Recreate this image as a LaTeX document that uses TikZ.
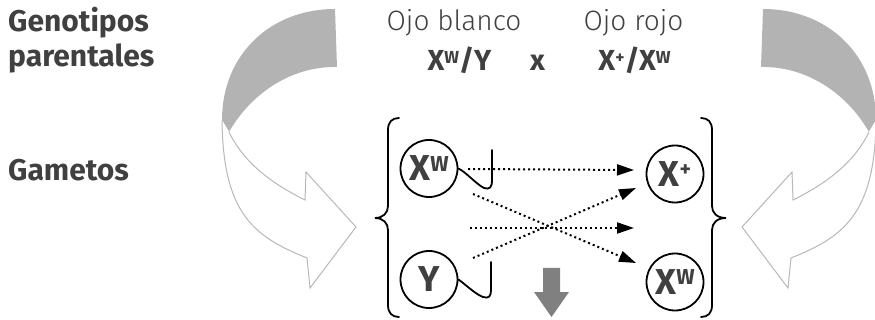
\documentclass[tikz,border=0pt]{standalone}
\usepackage{fontspec}
\setmainfont{Fira Sans}
\newfontfamily\lightfont{Fira Sans Light}
\usetikzlibrary{arrows.meta}
\definecolor{txt}{HTML}{404040}
\definecolor{band}{HTML}{B3B3B3}
\definecolor{outl}{HTML}{B8B8B8}
\definecolor{downc}{HTML}{808080}
\newcommand{\sps}[1]{\raisebox{0.27em}{\scalebox{0.6}{#1}}}
\newcommand{\curvarrow}{%
  \fill[band] (335,9) .. controls (270,9) and (222,55) .. (222,120) -- (229,132)
     .. controls (250,95) and (290,66) .. (337,67) -- cycle;
  \draw[outl, line width=1pt, fill=white, line join=miter] (222,120) .. controls (223,215) and (255,237) .. (307,258)
     -- (310,288) -- (356,227) -- (306,172) -- (305,200)
     .. controls (275,185) and (245,165) .. (229,132);
}
\begin{document}
\begin{tikzpicture}[x=1pt,y=-1pt,
  hd/.style={inner sep=0pt, text=txt, anchor=base west, font=\bfseries\fontsize{30}{32}\selectfont},
  lt/.style={inner sep=0pt, text=txt, anchor=base, font=\lightfont\fontsize{28}{30}\selectfont},
  gt/.style={inner sep=0pt, text=txt, anchor=base, font=\bfseries\fontsize{29}{31}\selectfont},
  gam/.style={draw=black, circle, line width=1.8pt, minimum size=57pt, inner sep=0pt, text=txt, font=\bfseries\fontsize{36}{38}\selectfont},
  brace/.style={draw=black, line width=1.8pt, line cap=round},
  hookst/.style={draw=black, line width=1.8pt, line cap=round},
  dots/.style={draw=black, line width=2pt, dash pattern=on 2pt off 3pt, -{Triangle[length=17pt,width=11pt]}}
]
\useasboundingbox (0,0) rectangle (875,320);

% curved arrows
\curvarrow
\begin{scope}[xshift=1098pt, xscale=-1]
  \curvarrow
\end{scope}

% left texts
\node[hd] (g1) at (8,32) {Genotipos};
\node[hd] (g2) at (8,67) {parentales};
\node[hd] (g3) at (8,181) {Gametos};

% top texts
\node[lt] (ob) at (454,31) {Ojo blanco};
\node[lt] (or) at (633.5,31) {Ojo rojo};
\node[gt] (p1) at (459.5,71) {X\sps{W}/Y};
\node[gt] (px) at (537.5,71) {x};
\node[gt] (p2) at (634.5,71) {X\sps{+}/X\sps{W}};

% braces
\draw[brace] (399,118) .. controls (392,118) and (388,122) .. (388,130) -- (388,206)
   .. controls (388,213) and (383,218) .. (375,218) .. controls (383,218) and (388,223) .. (388,230)
   -- (388,305) .. controls (388,313) and (392,317) .. (399,317);
\draw[brace] (701,118) .. controls (708,118) and (712,122) .. (712,130) -- (712,206)
   .. controls (712,213) and (717,218) .. (726,218) .. controls (717,218) and (712,223) .. (712,230)
   -- (712,305) .. controls (712,313) and (708,317) .. (701,317);

% gametes
\node[gam] (xw1) at (429,168.5) {X\sps{W}};
\node[gam] (y1) at (429,279.5) {Y};
\node[gam] (xp) at (675,174) {X\sps{+}};
\node[gam] (xw2) at (675,282) {X\sps{W}};

% hooks
\draw[hookst] (xw1.east) .. controls (466,172) and (476,184) .. (484,188)
   .. controls (490,190) and (492,187) .. (492,180) -- (492,150);
\draw[hookst] (y1.east) .. controls (465,284) and (475,294) .. (483,297)
   .. controls (489,299) and (491,296) .. (491,290) -- (491,262);

% dotted arrows
\coordinate (s1) at (468,169); \coordinate (e1) at (634,170);
\coordinate (s2) at (473,194); \coordinate (e2) at (636,263);
\coordinate (s3) at (470,228); \coordinate (e3) at (634,228);
\coordinate (s4) at (473,258); \coordinate (e4) at (636,188);
\draw[dots] (s1) -- (e1);
\draw[dots] (s2) -- (e2);
\draw[dots] (s3) -- (e3);
\draw[dots] (s4) -- (e4);

% down arrow
\fill[downc] (543,268) -- (560,268) -- (560,292) -- (569,292) -- (551.5,317) -- (534,292) -- (543,292) -- cycle;
\end{tikzpicture}
\end{document}
